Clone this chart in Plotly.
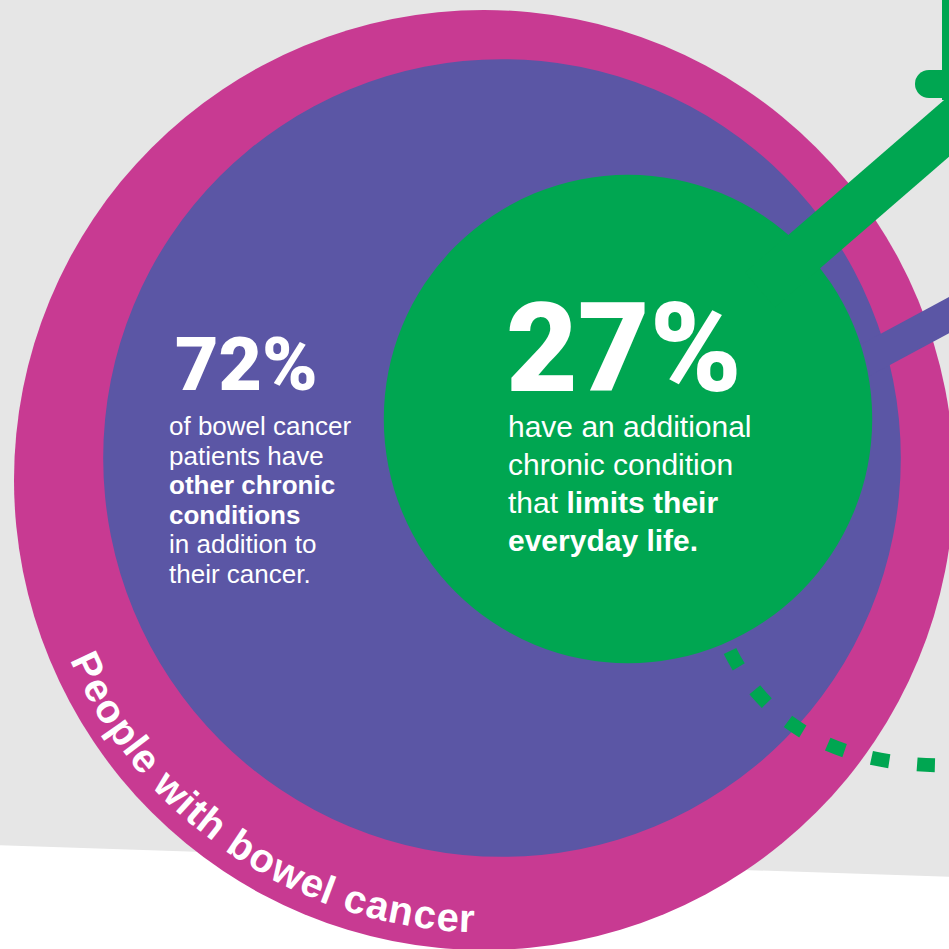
import math
import plotly.graph_objects as go

# ---- data ----
share_other_conditions = 72      # % of bowel cancer patients with other chronic conditions
share_limiting = 27              # % with a condition limiting everyday life
big_labels = ["72%", "27%"]
text_72 = ["of bowel cancer", "patients have", "<b>other chronic</b>", "<b>conditions</b>",
           "in addition to", "their cancer."]
text_27 = ["have an additional", "chronic condition", "that <b>limits their</b>", "<b>everyday life.</b>"]
ring_label = "People with bowel cancer"

# ---- colours ----
GRAY = "#e6e6e6"
MAGENTA = "#c83a92"
PURPLE = "#5b56a5"
GREEN = "#00a651"
W = 949

# ---- layout geometry (pixel space) ----
R_outer = 470
c_outer = (484, 480)
c_purple = (502, 458)
c_green = (628, 419)
r_purple = R_outer * math.sqrt(share_other_conditions / 100)
r_green = R_outer * math.sqrt(share_limiting / 100)

shapes = []
shapes.append(dict(type="path", path=f"M -5,-5 L {W+5},-5 L {W+5},877 L -5,845 Z",
                   fillcolor=GRAY, line=dict(width=0), layer="below"))

def circle(c, r, color):
    return dict(type="circle", x0=c[0]-r, x1=c[0]+r, y0=c[1]-r, y1=c[1]+r,
                fillcolor=color, line=dict(width=0))

shapes.append(circle(c_outer, R_outer, MAGENTA))
shapes.append(circle(c_purple, r_purple, PURPLE))
shapes.append(dict(type="line", x0=860, y0=363, x1=990, y1=293,
                   line=dict(color=PURPLE, width=32)))
shapes.append(circle(c_green, r_green, GREEN))
def ys(x):
    return 128 + 0.866 * (947 - x)
shapes.append(dict(type="line", x0=760, y0=ys(760), x1=985, y1=ys(985),
                   line=dict(color=GREEN, width=46)))
shapes.append(dict(type="path", path="M 929,70 L 980,70 L 980,98 L 929,98 Z",
                   fillcolor=GREEN, line=dict(width=0)))
shapes.append(dict(type="circle", x0=915, x1=943, y0=70, y1=98,
                   fillcolor=GREEN, line=dict(width=0)))
shapes.append(dict(type="path", path="M 942,-10 L 985,-10 L 985,100 L 942,100 Z",
                   fillcolor=GREEN, line=dict(width=0)))
shapes.append(dict(type="path", path="M 730,651 Q 790,772 965,765",
                   line=dict(color=GREEN, width=14, dash="18px,28px")))

annotations = []
BIG_FONT = "Roboto"
annotations.append(dict(x=173, y=392 - 0.37 * 75, text=big_labels[0], showarrow=False,
                        xanchor="left", yanchor="middle", height=64, valign="middle",
                        font=dict(family=BIG_FONT, size=75, weight=900, color="white")))
annotations.append(dict(x=504, y=394 - 0.37 * 124, text=big_labels[1], showarrow=False,
                        xanchor="left", yanchor="middle", height=100, valign="middle",
                        font=dict(family=BIG_FONT, size=124, weight=900, color="white")))

BODY = "Liberation Sans, Arial, sans-serif"
s72 = 26
for i, t in enumerate(text_72):
    base = 435 + 29.6 * i
    annotations.append(dict(x=167, y=base - 0.35 * s72, text=t, showarrow=False,
                            xanchor="left", yanchor="middle",
                            font=dict(family=BODY, size=s72, color="white")))
s27 = 30
for i, t in enumerate(text_27):
    base = 437 + 38 * i
    annotations.append(dict(x=506, y=base - 0.35 * s27, text=t, showarrow=False,
                            xanchor="left", yanchor="middle",
                            font=dict(family=BODY, size=s27, color="white")))

widths = {"P": .667, "e": .556, "o": .611, "p": .611, "l": .278, " ": .278, "w": .778,
          "i": .278, "t": .333, "h": .611, "b": .611, "c": .556, "a": .556, "n": .611, "r": .389}
cum = []
acc = 0
for ch in ring_label:
    w = widths.get(ch, .556)
    cum.append(acc + w / 2)
    acc += w
th0, th1 = 154.8, 92.2
rt = 438
for ch, cpos in zip(ring_label, cum):
    if ch == " ":
        continue
    frac = (cpos - cum[0]) / (cum[-1] - cum[0])
    th = th0 + (th1 - th0) * frac
    x = c_outer[0] + rt * math.cos(math.radians(th))
    y = c_outer[1] + rt * math.sin(math.radians(th))
    annotations.append(dict(x=x, y=y, text=ch, showarrow=False, xanchor="center",
                            yanchor="middle", textangle=th - 90,
                            font=dict(family=BODY, size=40, weight=700, color="white")))

fig = go.Figure(go.Scatter(x=[], y=[], mode="markers", showlegend=False, hoverinfo="skip"))
fig.update_layout(
    width=W, height=W, margin=dict(l=0, r=0, t=0, b=0),
    paper_bgcolor="white", plot_bgcolor="white",
    xaxis=dict(range=[0, W], visible=False, fixedrange=True),
    yaxis=dict(range=[W, 0], visible=False, fixedrange=True),
    shapes=shapes, annotations=annotations, showlegend=False,
)
fig.write_html("out.html", config={"displayModeBar": False},
               post_script="document.body.style.margin='0';document.body.style.overflow='hidden';")
